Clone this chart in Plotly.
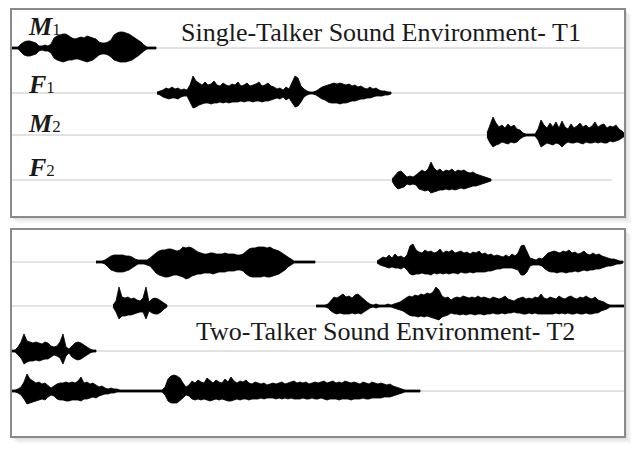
import plotly.graph_objects as go

W, H = 640, 454
STEP = 3  # sample spacing of the envelopes

# rows (baseline of each talker) in the two panels
TOP_ROWS = [48, 93, 135, 180]
BOTTOM_ROWS = [262, 306, 351, 391]
TOP_GRID_END = [625, 625, 625, 612]
BOTTOM_GRID_END = [625, 625, 625, 625]
ROW_LABELS = ["M", "F", "M", "F"]
ROW_SUBS = ["1", "1", "2", "2"]
LABEL_Y = [26, 84, 123, 167]

TITLE_T1 = "Single-Talker Sound Environment- T1"
TITLE_T2 = "Two-Talker Sound Environment- T2"

# envelopes: start time, amplitude above and below the baseline
M1_START = 12
M1_UP = [1,1,1,4,6,7,7,6,5,2, 2,3,2,4,10,12,13,14,14,12, 10,9,10,11,10,12,11,10,9,6,
         5,5,6,8,13,15,16,16,15,14, 12,10,8,6,3,1,1,1,1]
M1_DOWN = [1,1,1,4,7,8,8,7,6,3, 2,3,3,5,10,12,13,14,13,12, 12,11,11,12,13,14,13,12,10,7,
           6,6,7,9,12,13,14,14,14,13, 12,10,8,6,3,1,1,1,1]

F1_START = 157
F1_UP = [1,2,3,5,4,6,4,5,3,4, 3,8,17,12,10,8,11,8,9,12, 8,7,10,8,7,9,8,11,7,8,
         10,7,8,9,11,7,8,10,7,6, 4,5,3,6,4,10,17,15,7,4, 2,1,1,2,4,6,7,8,9,10,
         9,10,9,8,9,7,8,6,7,5, 4,6,4,5,3,2,2,1,1]
F1_DOWN = [1,2,4,5,6,5,5,6,4,3, 3,9,15,14,12,11,10,10,11,10, 10,9,10,9,10,9,9,9,8,9,
           8,8,9,8,8,9,8,8,7,6, 5,6,4,7,5,9,14,13,9,4, 2,1,1,2,4,6,7,9,10,10,
           10,11,10,10,9,8,8,7,6,6, 5,5,4,3,3,3,2,2,1]

M2_START = 487
M2_UP = [2,10,18,12,8,10,7,11,8,10, 6,5,2,1,1,1,1,6,15,10, 7,12,8,13,7,14,8,6,11,7,
         9,12,8,10,7,9,13,8,10,11, 7,9,8,10,6,4,1]
M2_DOWN = [2,8,12,10,9,7,8,9,7,8, 7,4,2,1,1,1,1,5,12,10, 8,9,10,8,9,12,9,7,8,8,
           7,8,9,7,8,8,7,8,7,8, 8,6,7,6,5,3,1]

F2_START = 392
F2_UP = [1,5,8,9,6,3,4,3,5,8, 10,8,11,18,12,9,11,8,10,9, 11,8,10,9,10,8,7,8,6,5, 4,3,2,1]
F2_DOWN = [1,6,9,8,7,4,5,4,5,9, 10,11,10,13,12,11,10,10,9,10, 9,10,9,8,9,8,7,6,6,5, 4,3,2,1]

# two-talker panel
T2A_START = 96
T2A_UP = [1,1,1,2,4,6,7,7,7,7, 6,6,5,3,2,2,2,2,4,7, 9,11,12,12,13,13,12,11,12,15,
          14,15,14,12,10,9,8,8,9,9, 8,8,8,9,8,8,8,7,7,8, 11,13,14,14,15,15,15,14,15,13,
          12,11,9,7,5,3,1,1,1,1, 1,1,1,1]
T2A_DOWN = [1,1,1,2,5,8,9,10,10,10, 9,8,6,4,2,2,2,3,4,8, 11,13,14,15,15,14,13,13,14,15,
            17,16,14,13,12,12,11,11,11,12, 11,10,10,10,9,9,9,8,8,9, 12,14,15,15,15,15,14,15,15,14,
            13,12,10,8,5,3,1,1,1,1, 1,1,1,1]

T2B_START = 377
T2B_UP = [1,3,5,4,7,4,8,5,6,4, 7,16,18,12,10,9,12,10,11,9, 10,13,9,11,10,12,9,10,11,9,
          10,8,10,9,11,8,9,7,8,6, 7,6,5,7,5,8,6,9,16,17, 10,4,3,2,4,3,6,9,10,11,
          10,9,11,10,12,9,10,8,9,11, 8,7,9,7,8,6,5,4,3,3, 2,1,1]
T2B_DOWN = [1,3,4,5,6,5,6,6,7,5, 8,12,13,12,12,11,12,12,13,11, 12,11,12,11,12,11,11,12,10,11,
            11,10,11,10,10,10,10,9,9,8, 7,7,6,6,6,6,7,8,13,13, 10,4,3,3,3,4,7,9,10,10,
            11,10,10,11,10,10,9,10,9,8, 9,8,8,7,7,6,5,4,4,3, 2,2,1]

T2C_START = 113
T2C_UP = [1,5,19,9,8,9,7,8,6,5, 8,19,4,7,8,7,5,3,1]
T2C_DOWN = [1,6,13,10,10,9,9,8,7,6, 6,13,5,7,8,8,6,3,1]

T2D_START = 316
T2D_UP = [1,1,1,1,2,6,9,8,10,12, 9,10,8,11,12,9,7,4,2,1, 2,1,1,1,2,1,2,3,4,6,
          8,10,9,11,10,12,11,13,12,14, 19,16,10,8,9,6,8,9,8,10, 9,8,9,8,10,8,9,8,7,9,
          8,7,8,10,7,6,5,7,8,9, 7,8,7,9,8,12,8,7,9,8, 7,10,8,7,9,10,8,7,9,8,
          10,8,7,9,6,5,4,2,1,1, 1,1,1,1]
T2D_DOWN = [1,1,1,1,2,5,7,8,7,8, 8,8,7,8,7,8,6,4,2,1, 2,1,1,1,1,1,2,3,4,5,
            7,9,10,10,11,10,11,10,11,12, 13,14,11,10,9,7,8,8,9,8, 9,8,8,9,8,8,9,8,8,7,
            8,8,7,8,7,7,6,7,7,8, 8,7,8,7,8,8,8,8,8,8, 7,8,7,8,7,8,8,7,8,8,
            7,8,8,7,7,5,4,3,1,1, 1,1,1,1]

T2E_START = 12
T2E_UP = [1,1,4,9,17,10,9,8,9,8, 7,9,8,5,4,5,9,17,4,2, 5,8,9,8,6,4,2,1,1]
T2E_DOWN = [1,1,4,7,13,11,10,10,9,10, 9,8,8,6,4,5,7,13,5,2, 6,8,9,8,6,4,2,1,1]

T2F_START = 12
T2F_UP = [1,1,2,4,9,17,12,10,8,9, 7,8,5,3,5,7,8,8,9,8, 9,8,10,14,8,9,7,8,6,4,
          5,3,2,3,2,2,1,1,1,1, 1,1,1,1,1,1,1,1,1,1, 1,4,12,15,16,15,13,8,4,6,
          10,8,11,9,8,13,10,8,11,9, 8,12,9,14,10,8,10,9,11,8, 7,9,8,7,8,6,7,8,7,8,
          9,7,8,9,10,8,9,8,9,7, 8,9,8,9,10,8,9,10,8,9, 8,10,9,8,9,8,7,9,8,7,
          9,8,7,8,7,6,7,5,4,3, 2,1,1,1,1,1,1]
T2F_DOWN = [1,1,2,4,8,13,12,11,10,9, 8,9,6,4,5,8,9,9,10,10, 9,9,9,10,8,8,7,6,7,5,
            4,3,3,2,2,1,1,1,1,1, 1,1,1,1,1,1,1,1,1,1, 1,4,10,12,12,12,10,7,4,5,
            8,9,8,9,8,9,10,9,8,9, 8,9,10,10,9,8,9,8,8,9, 8,8,8,7,8,7,7,7,8,7,
            8,7,8,7,8,8,8,7,8,8, 7,8,8,7,8,9,8,8,8,9, 8,8,8,9,8,8,8,7,8,8,
            7,7,7,7,6,6,6,5,4,3, 2,1,1,1,1,1,1]

waves = [
    (M1_START, M1_UP, M1_DOWN, TOP_ROWS[0], "top"),
    (F1_START, F1_UP, F1_DOWN, TOP_ROWS[1], "top"),
    (M2_START, M2_UP, M2_DOWN, TOP_ROWS[2], "top"),
    (F2_START, F2_UP, F2_DOWN, TOP_ROWS[3], "top"),
    (T2A_START, T2A_UP, T2A_DOWN, BOTTOM_ROWS[0], "bottom"),
    (T2B_START, T2B_UP, T2B_DOWN, BOTTOM_ROWS[0], "bottom"),
    (T2C_START, T2C_UP, T2C_DOWN, BOTTOM_ROWS[1], "bottom"),
    (T2D_START, T2D_UP, T2D_DOWN, BOTTOM_ROWS[1], "bottom"),
    (T2E_START, T2E_UP, T2E_DOWN, BOTTOM_ROWS[2], "bottom"),
    (T2F_START, T2F_UP, T2F_DOWN, BOTTOM_ROWS[3], "bottom"),
]

fig = go.Figure()

for start, up, down, row, panel in waves:
    assert len(up) == len(down), (start, len(up), len(down))
    t = [start + STEP * i for i in range(len(up))]
    xs = t + t[::-1]
    ys = [row - u for u in up] + [row + d for d in down][::-1]
    xa, ya = ("x", "y") if panel == "top" else ("x2", "y2")
    fig.add_trace(go.Scatter(x=xs, y=ys, mode="lines", fill="toself",
                             fillcolor="black", line=dict(color="black", width=0.8),
                             hoverinfo="skip", xaxis=xa, yaxis=ya))


def px(x):
    return x / W


def py(y):
    return 1 - y / H


# panel boxes (pixel extents of the two frames)
panels = [(11, 9, 625, 217), (11, 229, 625, 437)]
shapes = []
for x0, y0, x1, y1 in panels:
    for off, col in [(6, "#f4f4f4"), (4, "#eaeaea"), (2, "#dedede")]:
        shapes.append(dict(type="rect", xref="paper", yref="paper", layer="below",
                           x0=px(x0 + off), x1=px(x1 + off), y0=py(y0 + off), y1=py(y1 + off),
                           fillcolor=col, line=dict(width=0)))
    shapes.append(dict(type="rect", xref="paper", yref="paper", layer="below",
                       x0=px(x0), x1=px(x1), y0=py(y0), y1=py(y1),
                       fillcolor="white", line=dict(width=0)))
    shapes.append(dict(type="rect", xref="paper", yref="paper", layer="above",
                       x0=px(x0), x1=px(x1), y0=py(y0), y1=py(y1),
                       fillcolor="rgba(0,0,0,0)", line=dict(color="#8a8a8a", width=2)))

# light row lines
for rows, ends, xr, yr in [(TOP_ROWS, TOP_GRID_END, "x", "y"),
                           (BOTTOM_ROWS, BOTTOM_GRID_END, "x2", "y2")]:
    for r, e in zip(rows, ends):
        shapes.append(dict(type="line", xref=xr, yref=yr, layer="below",
                           x0=11, x1=e, y0=r, y1=r,
                           line=dict(color="#d9d9d9", width=1.5)))

annotations = [
    dict(text=TITLE_T1, x=381, y=32, xref="x", yref="y", showarrow=False,
         font=dict(family="Liberation Serif", size=26, color="#1a1a1a")),
    dict(text=TITLE_T2, x=385, y=331, xref="x2", yref="y2", showarrow=False,
         font=dict(family="Liberation Serif", size=26, color="#1a1a1a")),
]
for lab, sub, ly in zip(ROW_LABELS, ROW_SUBS, LABEL_Y):
    annotations.append(dict(
        text="<b><i>%s</i></b><span style='font-size:17px'>%s</span>" % (lab, sub),
        x=26, y=ly, xref="x", yref="y", xanchor="left", showarrow=False,
        font=dict(family="Liberation Serif", size=26, color="#1a1a1a")))

axis_x = dict(range=[11, 625], showgrid=False, zeroline=False, showticklabels=False,
              ticks="", showline=False, fixedrange=True)
axis_y = dict(showgrid=False, zeroline=False, showticklabels=False,
              ticks="", showline=False, fixedrange=True)

fig.update_layout(
    width=W, height=H,
    margin=dict(l=0, r=0, t=0, b=0),
    paper_bgcolor="white", plot_bgcolor="rgba(0,0,0,0)",
    showlegend=False,
    xaxis=dict(axis_x, domain=[px(11), px(625)], anchor="y"),
    yaxis=dict(axis_y, domain=[py(217), py(9)], range=[217, 9], anchor="x"),
    xaxis2=dict(axis_x, domain=[px(11), px(625)], anchor="y2"),
    yaxis2=dict(axis_y, domain=[py(437), py(229)], range=[437, 229], anchor="x2"),
    shapes=shapes,
    annotations=annotations,
)

fig.write_html("out.html", config={"displayModeBar": False},
               post_script="document.body.style.margin='0';")
